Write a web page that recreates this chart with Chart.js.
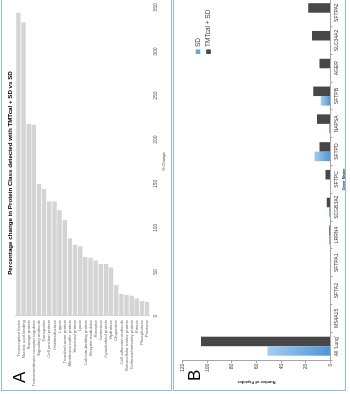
<!DOCTYPE html>
<html>
<head>
<meta charset="utf-8">
<script src="https://cdn.jsdelivr.net/npm/chart.js@4/dist/chart.umd.min.js"></script>
<style>
html,body{margin:0;padding:0;background:#fff;overflow:hidden;width:350px;height:394px;}
#rot{position:absolute;left:0;top:0;width:394px;height:350px;overflow:hidden;transform-origin:0 0;transform:translate(0,394px) rotate(-90deg);background:#fff;font-family:"Liberation Sans",Arial,sans-serif;}
.box{position:absolute;border:1.5px solid #8dbde6;box-sizing:border-box;}
.letter{position:absolute;font-size:17px;line-height:1;color:#000;font-family:"Liberation Sans",Arial,sans-serif;}
#titleA{position:absolute;left:101px;width:240px;top:6.3px;text-align:center;white-space:nowrap;font:bold 6.2px/7.4px "Liberation Sans",Arial,sans-serif;color:#000;}
canvas{position:absolute;}
</style>
</head>
<body>
<div id="rot">
  <div class="box" style="left:3px;top:1px;width:430px;height:171px"></div>
  <div class="box" style="left:3px;top:173px;width:430px;height:173px"></div>
  <canvas id="cA" width="394" height="172" style="left:0;top:0;width:394px;height:172px"></canvas>
  <canvas id="cB" width="400" height="177" style="left:0;top:173px;width:400px;height:177px"></canvas>
  <div id="titleA">Percentage change in Protein Class detected with TMTcal + SD vs SD</div>
  <div class="letter" style="left:11px;top:11px">A</div>
  <div class="letter" style="left:13px;top:186px">B</div>
</div>
<script>
// ---------- Panel A data ----------
const proteinClasses = [
  'Transcription factor', 'Nucleic acid binding', 'Storage protein',
  'Transmembrane receptor regulator', 'Signaling molecule', 'Transporter',
  'Cell junction protein', 'Oxidoreductase', 'Ligase',
  'Transfer/carrier protein', 'Membrane traffic protein', 'Structural protein',
  'Lyase', 'Calcium-binding protein', 'Enzyme modulator', 'Receptor',
  'Isomerase', 'Cytoskeletal protein', 'Hydrolase', 'Chaperone',
  'Cell adhesion molecule', 'Extracellular matrix protein',
  'Defense/immunity protein', 'Kinase', 'Phosphatase', 'Protease'
];
const percentChange = [344, 333, 218, 217, 150, 144, 130, 130, 120, 109, 88, 81, 79,
                       67, 66, 63, 59, 59, 55, 35, 25, 24, 23, 20, 17, 16];
const percentTicks = [0, 50, 100, 150, 200, 250, 300, 350];

// ---------- Panel B data ----------
const geneNames = ["All 'Lung'", 'MS4A15', 'SFTA2', 'SFTPA1', 'LRRN4', 'SCGB3A2',
                   'SFTPC', 'SFTPD', 'NAPSA', 'SFTPB', 'AGER', 'SLC34A2', 'SFTPA2'];
const peptidesSD     = [51, 0, 0, 0, 1, 1, 0, 13, 1, 8, 0, 0, 0];
const peptidesTMTcal = [105, 0, 0, 0, 1, 3, 4, 9, 11, 14, 9, 15, 18];
const peptideTicks = [0, 20, 40, 60, 80, 100, 120];

const FONT = '"Liberation Sans", Arial, sans-serif';
Chart.defaults.font.family = FONT;
Chart.defaults.color = '#595959';

// ---------- Chart A ----------
new Chart(document.getElementById('cA'), {
  type: 'bar',
  data: {
    labels: proteinClasses,
    datasets: [{
      data: percentChange,
      backgroundColor: '#d4d4d4',
      borderWidth: 0,
      categoryPercentage: 1,
      barPercentage: 0.87
    }]
  },
  options: {
    indexAxis: 'y',
    responsive: false,
    animation: false,
    devicePixelRatio: 1,
    layout: { padding: { left: 0, right: 4.5, top: 15.8, bottom: 5.6 } },
    plugins: {
      legend: { display: false },
      tooltip: { enabled: false },
      title: { display: false }
    },
    scales: {
      x: {
        min: 0, max: 350,
        afterBuildTicks: s => { s.ticks = percentTicks.map(v => ({ value: v })); },
        afterFit: s => { s.height = 16.7; },
        grid: { display: false, drawTicks: false },
        border: { display: false },
        ticks: { font: { size: 5, family: FONT }, padding: 3.3, color: '#595959', maxRotation: 0 },
        title: { display: true, text: '% Change', color: '#404040',
                 font: { size: 4, family: FONT, lineHeight: 1.2 }, padding: { top: 0, bottom: 0 } }
      },
      y: {
        afterFit: s => { s.width = 78; },
        grid: { display: false, drawTicks: false },
        border: { display: true, color: '#d9d9d9', width: 1 },
        ticks: { font: { size: 4.3, family: FONT, lineHeight: 1.1 }, padding: 4, color: '#666666', autoSkip: false }
      }
    }
  }
});

// ---------- Chart B ----------
const cornerLegend = {
  id: 'cornerLegend',
  afterDraw(chart) {
    const ctx = chart.ctx;
    ctx.save();
    ctx.font = '6.5px ' + FONT;
    ctx.textBaseline = 'middle';
    chart.data.datasets.forEach((d, i) => {
      const y = 25 + i * 10.5;
      ctx.fillStyle = d.legendColor;
      ctx.fillRect(340, y - 2.3, 4.6, 4.6);
      ctx.fillStyle = '#404040';
      ctx.fillText(d.label, 347, y);
    });
    ctx.restore();
  }
};

function blueGradient(c) {
  const ch = c.chart;
  if (!ch.chartArea || c.type !== 'data' || !ch.scales.y) return '#6fa7db';
  const ys = ch.scales.y;
  const v = c.parsed ? c.parsed.y : 0;
  const top = ys.getPixelForValue(v), base = ys.getPixelForValue(0);
  if (base - top < 1.5) return '#5b9bd5';
  const g = ch.ctx.createLinearGradient(0, top, 0, base);
  g.addColorStop(0, '#a6ccee');
  g.addColorStop(1, '#4e96d6');
  return g;
}

new Chart(document.getElementById('cB'), {
  type: 'bar',
  data: {
    labels: geneNames,
    datasets: [
      { label: 'SD', data: peptidesSD, backgroundColor: blueGradient, legendColor: '#6aa6dc',
        borderWidth: 0, categoryPercentage: 0.684, barPercentage: 1 },
      { label: 'TMTcal + SD', data: peptidesTMTcal, backgroundColor: '#474747', legendColor: '#474747',
        borderWidth: 0, categoryPercentage: 0.684, barPercentage: 1 }
    ]
  },
  options: {
    responsive: false,
    animation: false,
    devicePixelRatio: 1,
    layout: { padding: { left: 0, right: 4.8, top: 9.5, bottom: 4.1 } },
    plugins: { legend: { display: false }, tooltip: { enabled: false } },
    scales: {
      x: {
        afterFit: s => { s.height = 15.4; },
        grid: { offset: true, drawOnChartArea: false, drawTicks: true, tickLength: 2, color: '#a6a6a6' },
        border: { display: true, color: '#a6a6a6', width: 1 },
        ticks: { font: { size: 5, family: FONT }, padding: 1.5, color: '#404040', maxRotation: 0, autoSkip: false },
        title: { display: true, text: 'Gene Name', color: '#262626',
                 font: { size: 4, weight: 'bold', family: FONT, lineHeight: 1.2 }, padding: { top: 0, bottom: 0 } }
      },
      y: {
        min: 0, max: 120,
        afterBuildTicks: s => { s.ticks = peptideTicks.map(v => ({ value: v })); },
        afterFit: s => { s.width = 33.9; },
        grid: { drawOnChartArea: false, drawTicks: true, tickLength: 3, color: '#a6a6a6' },
        border: { display: true, color: '#a6a6a6', width: 1 },
        ticks: { font: { size: 5, family: FONT }, padding: 0.5, color: '#404040' },
        title: { display: true, text: 'Number of Peptides', color: '#262626',
                 font: { size: 4, weight: 'bold', family: FONT, lineHeight: 1.2 }, padding: { top: 9.9, bottom: 0 } }
      }
    }
  },
  plugins: [cornerLegend]
});
</script>
</body>
</html>
